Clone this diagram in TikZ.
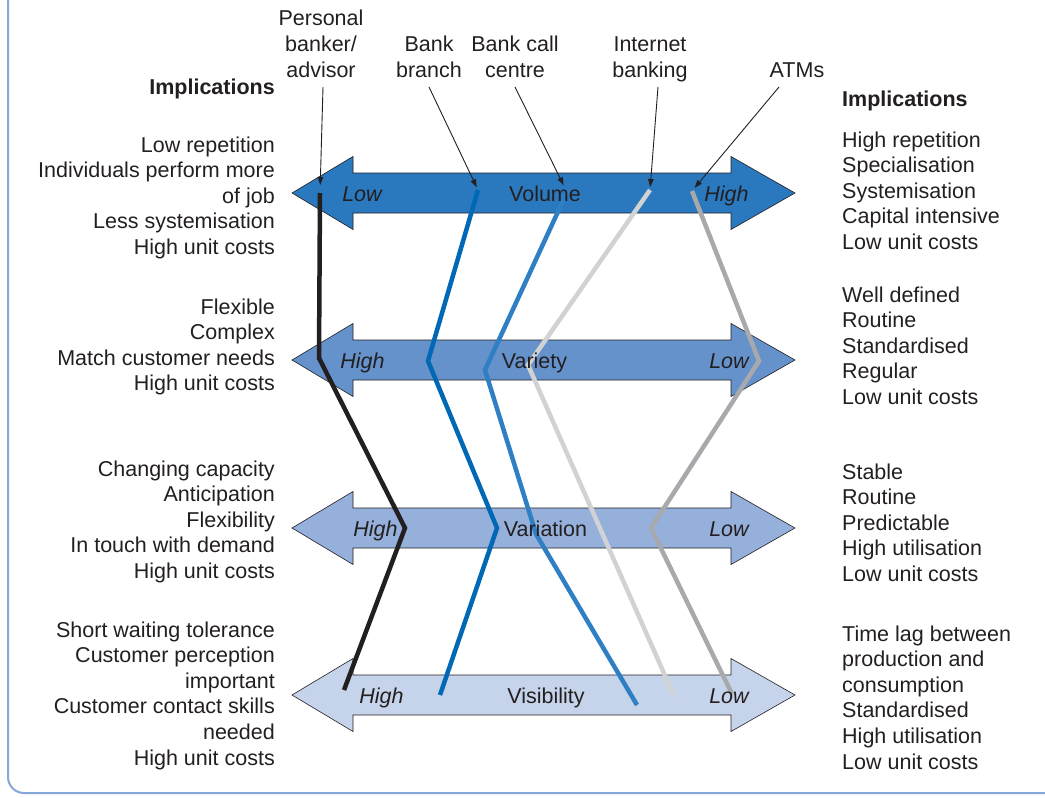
\documentclass[tikz,border=0pt]{standalone}
\usepackage{fontspec}
\setmainfont{Liberation Sans}
\usetikzlibrary{arrows.meta}
\definecolor{ink}{HTML}{231F20}
\definecolor{volc}{HTML}{2A78BE}
\definecolor{varc}{HTML}{6592CB}
\definecolor{vrnc}{HTML}{95B0DB}
\definecolor{visc}{HTML}{C6D4EB}
\definecolor{brc}{HTML}{0068B4}
\definecolor{ccc}{HTML}{2F7FC4}
\definecolor{ibc}{HTML}{D1D2D4}
\definecolor{atmc}{HTML}{A7A9AC}
\definecolor{framec}{HTML}{86A8D8}
\begin{document}
\begin{tikzpicture}[x=1pt,y=-1pt,
  txt/.style={font=\fontsize{21.5}{26}\selectfont, text=ink, inner sep=0pt},
  lefttxt/.style={txt, anchor=base east},
  righttxt/.style={txt, anchor=base west},
  toplab/.style={txt, align=center, anchor=south, execute at end node=\strut},
  headtxt/.style={txt, font=\fontsize{21.5}{26}\selectfont\bfseries},
  axlab/.style={txt, anchor=base},
  axend/.style={txt, anchor=base, font=\fontsize{21.5}{26}\selectfont\itshape},
  axisbody/.style={draw=ink, line width=0.6pt, line join=miter},
  track/.style={line width=4.5pt, line join=miter, miter limit=20},
  pointer/.style={draw=ink, line width=0.9pt, -{Triangle[length=8pt,width=5.5pt]}},
  dblarrow/.pic={\path[pic actions] (-251.5,0) -- (-190.5,-36.5) -- (-190.5,-20) -- (187.5,-20) -- (187.5,-36.5) -- (251.5,0) -- (187.5,36.5) -- (187.5,20) -- (-190.5,20) -- (-190.5,36.5) -- cycle;}
]
\useasboundingbox (0,0) rectangle (1045,798);
\begin{scope}
  \clip (0,0) rectangle (1045,798);
  \draw[framec, line width=2pt, rounded corners=16pt] (8,-40) rectangle (1090,793);
\end{scope}

% axis arrows
\pic[fill=volc, axisbody] (volarrow) at (543.5,193) {dblarrow};
\pic[fill=varc, axisbody] (vararrow) at (543.5,360) {dblarrow};
\pic[fill=vrnc, axisbody] (vrnarrow) at (543.5,528) {dblarrow};
\pic[fill=visc, axisbody] (visarrow) at (543.5,695) {dblarrow};

% track coordinates
\coordinate (pb0) at (320,193); \coordinate (pb1) at (319,358); \coordinate (pb2) at (405,528); \coordinate (pb3) at (344,690);
\coordinate (br0) at (478,190); \coordinate (br1) at (428,361); \coordinate (br2) at (497,528); \coordinate (br3) at (440,695);
\coordinate (cc0) at (568,190); \coordinate (cc1) at (485,370); \coordinate (cc2) at (536,534); \coordinate (cc3) at (637,705);
\coordinate (ib0) at (650,190); \coordinate (ib1) at (528,365); \coordinate (ib3) at (674,696);
\coordinate (at0) at (692,191); \coordinate (at1) at (759,361); \coordinate (at2) at (651,528); \coordinate (at3) at (732,694);

% tracks
\draw[track, ink] (pb0) -- (pb1) -- (pb2) -- (pb3);
\draw[track, brc] (br0) -- (br1) -- (br2) -- (br3);
\draw[track, ccc] (cc0) -- (cc1) -- (cc2) -- (cc3);
\draw[track, ibc] (ib0) -- (ib1) -- (ib3);
\draw[track, atmc] (at0) -- (at1) -- (at2) -- (at3);

% axis labels
\node[axend] (vollow) at (362,201.5) {Low};
\node[axlab] (volname) at (545,201.5) {Volume};
\node[axend] (volhigh) at (726.5,201.5) {High};
\node[axend] (varhigh) at (362.5,368.5) {High};
\node[axlab] (varname) at (534.5,368.5) {Variety};
\node[axend] (varlow) at (729,368.5) {Low};
\node[axend] (vrnhigh) at (375.5,536.5) {High};
\node[axlab] (vrnname) at (545.5,536.5) {Variation};
\node[axend] (vrnlow) at (729,536.5) {Low};
\node[axend] (vishigh) at (381.5,703.5) {High};
\node[axlab] (visname) at (546,703.5) {Visibility};
\node[axend] (vislow) at (729,703.5) {Low};

% top labels (south = last baseline + strut depth 7.8)
\node[toplab] (pblab) at (321,85) {Personal\\banker/\\advisor};
\node[toplab] (brlab) at (429,85) {Bank\\branch};
\node[toplab] (cclab) at (515,85) {Bank call\\centre};
\node[toplab] (iblab) at (650,85) {Internet\\banking};
\node[toplab] (atlab) at (797,85) {ATMs};

% pointers
\coordinate (pbs) at (323,87); \coordinate (brs) at (429,87); \coordinate (ccs) at (515,87);
\coordinate (ibs) at (658,87); \coordinate (ats) at (779,87);
\draw[pointer, shorten >=8pt] (pbs) -- (pb0);
\draw[pointer, shorten >=3pt] (brs) -- (br0);
\draw[pointer, shorten >=3pt] (ccs) -- (565,188);
\draw[pointer, shorten >=3pt] (ibs) -- (ib0);
\draw[pointer, shorten >=4pt] (ats) -- (at0);

% headings
\node[headtxt, anchor=base east] (limpl) at (275,94) {Implications};
\node[headtxt, anchor=base west] (rimpl) at (842,106) {Implications};

% left texts
\foreach \t [count=\i from 0] in {Low repetition, Individuals perform more, of job, Less systemisation, High unit costs}
  \node[lefttxt] (la\i) at (275,152+25.6*\i) {\t};
\foreach \t [count=\i from 0] in {Flexible, Complex, Match customer needs, High unit costs}
  \node[lefttxt] (lb\i) at (275,314+25.6*\i) {\t};
\foreach \t [count=\i from 0] in {Changing capacity, Anticipation, Flexibility, In touch with demand, High unit costs}
  \node[lefttxt] (lc\i) at (275,476+25.6*\i) {\t};
\foreach \t [count=\i from 0] in {Short waiting tolerance, Customer perception, important, Customer contact skills, needed, High unit costs}
  \node[lefttxt] (ld\i) at (275,637+25.6*\i) {\t};

% right texts
\foreach \t [count=\i from 0] in {High repetition, Specialisation, Systemisation, Capital intensive, Low unit costs}
  \node[righttxt] (ra\i) at (842,147+25.6*\i) {\t};
\foreach \t [count=\i from 0] in {Well defined, Routine, Standardised, Regular, Low unit costs}
  \node[righttxt] (rb\i) at (842,302+25.6*\i) {\t};
\foreach \t [count=\i from 0] in {Stable, Routine, Predictable, High utilisation, Low unit costs}
  \node[righttxt] (rc\i) at (842,479+25.6*\i) {\t};
\foreach \t [count=\i from 0] in {Time lag between, production and, consumption, Standardised, High utilisation, Low unit costs}
  \node[righttxt] (rd\i) at (842,641+25.6*\i) {\t};
\end{tikzpicture}
\end{document}
